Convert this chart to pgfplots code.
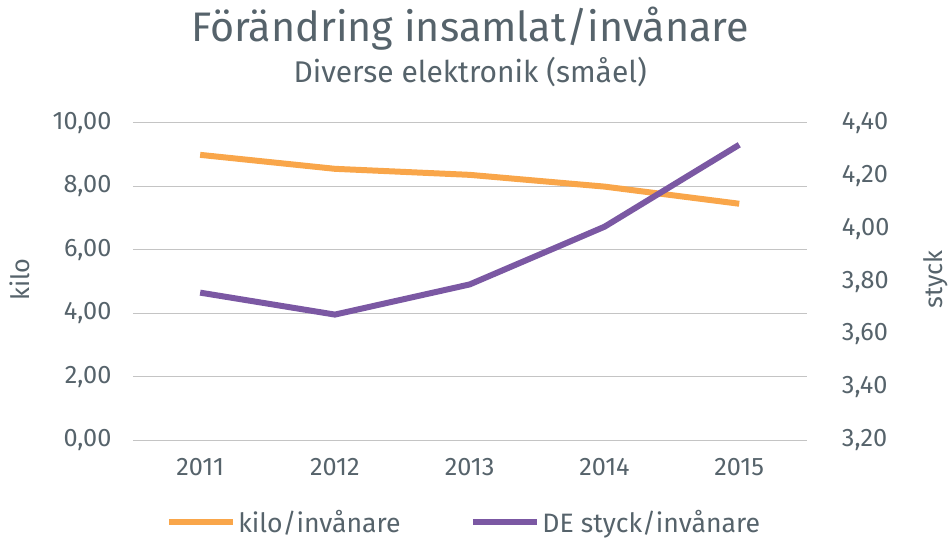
\documentclass[border=0pt]{standalone}
\usepackage{pgfplots}
\pgfplotsset{compat=1.18}
\usepackage{fontspec}
\setmainfont{Fira Sans}
\definecolor{txt}{HTML}{56636B}
\definecolor{grd}{HTML}{C4C4C4}
\definecolor{org}{HTML}{F9A64A}
\definecolor{pur}{HTML}{7B58A3}

\pgfplotstableread{
x kilo
0 8.99
1 8.55
2 8.36
3 7.99
4 7.45
}\kilotable
\pgfplotstableread{
x styck
0 3.758
1 3.675
2 3.789
3 4.007
4 4.317
}\stycktable

\begin{document}
\begin{tikzpicture}[x=0.75pt,y=0.75pt]
\path (-133,-97) rectangle (819,441);
\pgfplotsset{
  base/.style={
    at={(0,0)}, anchor=south west, scale only axis,
    width=506.25pt, height=238.5pt,
    xmin=-0.5, xmax=4.5,
    axis line style={draw=none},
    major tick length=0pt,
    tick label style={txt, font=\fontsize{19}{22}\selectfont},
    /pgf/number format/assume math mode=true,
    /pgf/number format/fixed,
    /pgf/number format/fixed zerofill,
    /pgf/number format/precision=2,
    /pgf/number format/use comma,
    /pgf/number format/1000 sep={},
  }
}
\begin{axis}[base,
  ymin=0, ymax=10, ytick={0,2,4,6,8,10},
  xtick={0,1,2,3,4}, xticklabels={2011,2012,2013,2014,2015},
  axis y line*=left, axis x line*=bottom,
  ymajorgrids, grid style={grd, line width=0.9pt},
  yticklabel style={xshift=-12.5pt},
  xticklabel style={yshift=-10pt},
]
\addplot[org, line width=4.5pt, line join=round] table[x=x,y=kilo] {\kilotable};
\end{axis}
\begin{axis}[base,
  ymin=3.2, ymax=4.4, ytick={3.2,3.4,3.6,3.8,4.0,4.2,4.4},
  axis y line*=right, axis x line=none,
  yticklabel style={xshift=23pt},
  legend style={at={(0.492,-0.258)}, anchor=center, draw=none, fill=none,
    legend columns=2, font=\fontsize{20}{22}\selectfont, text=txt,
    /tikz/every even column/.append style={column sep=50pt}},
  legend image code/.code={\draw[#1, line width=4.5pt] (0pt,0pt) -- (48pt,0pt);},
]
\addlegendimage{org}
\addlegendentry{kilo/invånare}
\addplot[pur, line width=4.5pt, line join=round] table[x=x,y=styck] {\stycktable};
\addlegendentry{DE styck/invånare}
\end{axis}
\node[txt, anchor=base, font=\fontsize{31}{34}\selectfont] at (338,399) {Förändring insamlat/invånare};
\node[txt, anchor=base, font=\fontsize{22.5}{26}\selectfont] at (338,358) {Diverse elektronik (småel)};
\node[txt, rotate=90, font=\fontsize{19}{22}\selectfont] at (-113,161) {kilo};
\node[txt, rotate=90, font=\fontsize{19}{22}\selectfont] at (804,161) {styck};
\end{tikzpicture}
\end{document}
